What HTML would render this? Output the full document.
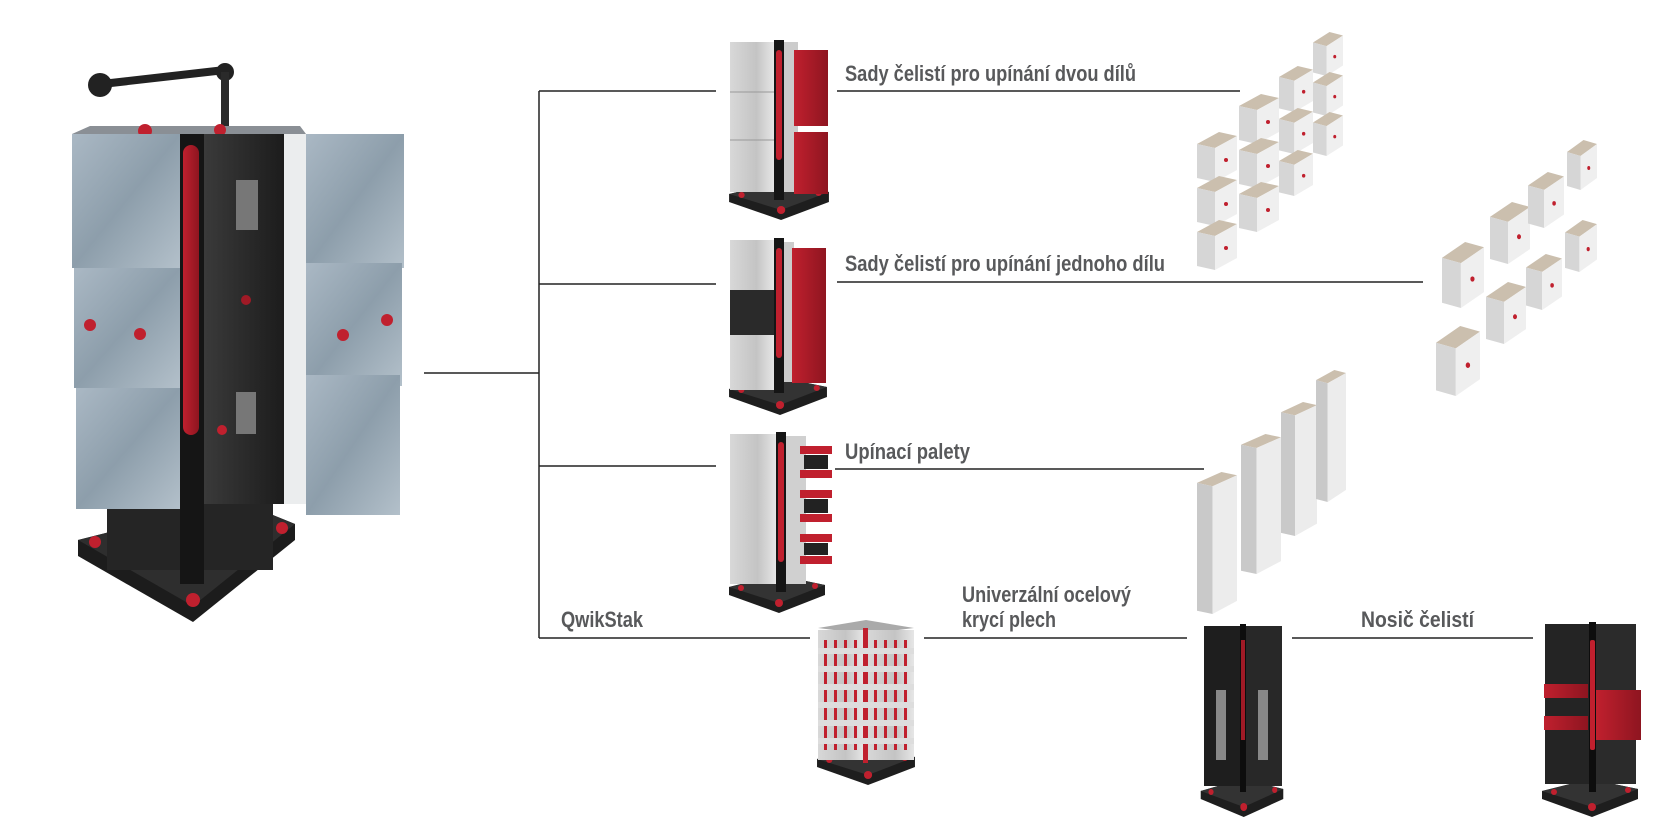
<!DOCTYPE html>
<html><head><meta charset="utf-8">
<style>
html,body{margin:0;padding:0;background:#fff;}
svg{display:block;}
text{font-family:"Liberation Sans Narrow","Liberation Sans",sans-serif;font-weight:bold;fill:#58595b;font-size:22px;}
</style></head>
<body>
<svg width="1679" height="818" viewBox="0 0 1679 818" xmlns="http://www.w3.org/2000/svg">
<defs>
<linearGradient id="steel" x1="0" y1="0" x2="1" y2="1">
<stop offset="0" stop-color="#aab8c4"/><stop offset="0.5" stop-color="#8d9eab"/><stop offset="1" stop-color="#b3c0ca"/>
</linearGradient>
<linearGradient id="silver" x1="0" y1="0" x2="1" y2="0">
<stop offset="0" stop-color="#d8d8d8"/><stop offset="0.6" stop-color="#c4c4c4"/><stop offset="1" stop-color="#e6e6e6"/>
</linearGradient>
<linearGradient id="red" x1="0" y1="0" x2="1" y2="0">
<stop offset="0" stop-color="#c0202e"/><stop offset="1" stop-color="#8e1520"/>
</linearGradient>
<linearGradient id="dark" x1="0" y1="0" x2="1" y2="0">
<stop offset="0" stop-color="#3a3a3a"/><stop offset="1" stop-color="#1c1c1c"/>
</linearGradient>
<symbol id="cube" viewBox="0 0 40 50" preserveAspectRatio="none">
<polygon points="0,12 22,0 40,4 18,16" fill="#cbbfae"/>
<polygon points="0,12 18,16 18,50 0,46" fill="#d6d6d6"/>
<polygon points="18,16 40,4 40,38 18,50" fill="#efefef"/>
<circle cx="29" cy="28" r="2" fill="#c0202e"/>
</symbol>
<symbol id="plate" viewBox="0 0 36 130" preserveAspectRatio="none">
<polygon points="0,10 22,0 36,3 14,13" fill="#cbbfae"/>
<polygon points="0,10 14,13 14,130 0,127" fill="#c9c9c9"/>
<polygon points="14,13 36,3 36,118 14,130" fill="#ececec"/>
</symbol>
<symbol id="base" viewBox="0 0 100 40" preserveAspectRatio="none">
<polygon points="2,14 50,2 98,12 98,22 52,40 2,22" fill="#1e1e1e"/>
<polygon points="2,14 50,2 98,12 52,30" fill="#333"/>
<circle cx="52" cy="30" r="4" fill="#c0202e"/>
<circle cx="14" cy="15" r="3" fill="#c0202e"/>
<circle cx="88" cy="13" r="3" fill="#c0202e"/>
</symbol>
</defs>

<!-- connector lines -->
<g stroke="#222" stroke-width="1.5" fill="none">
<line x1="424" y1="373" x2="539" y2="373"/>
<line x1="539" y1="91" x2="539" y2="638"/>
<line x1="539" y1="91" x2="716" y2="91"/>
<line x1="539" y1="284" x2="716" y2="284"/>
<line x1="539" y1="466" x2="716" y2="466"/>
<line x1="539" y1="638" x2="810" y2="638"/>
<line x1="837" y1="91" x2="1240" y2="91"/>
<line x1="837" y1="282" x2="1423" y2="282"/>
<line x1="835" y1="469" x2="1204" y2="469"/>
<line x1="924" y1="638" x2="1187" y2="638"/>
<line x1="1292" y1="638" x2="1533" y2="638"/>
</g>

<!-- labels -->
<text x="845" y="81" textLength="291" lengthAdjust="spacingAndGlyphs">Sady čelistí pro upínání dvou dílů</text>
<text x="845" y="271" textLength="320" lengthAdjust="spacingAndGlyphs">Sady čelistí pro upínání jednoho dílu</text>
<text x="845" y="459" textLength="125" lengthAdjust="spacingAndGlyphs">Upínací palety</text>
<text x="561" y="627" textLength="82" lengthAdjust="spacingAndGlyphs">QwikStak</text>
<text x="962" y="602" textLength="169" lengthAdjust="spacingAndGlyphs">Univerzální ocelový</text>
<text x="962" y="627" textLength="94" lengthAdjust="spacingAndGlyphs">krycí plech</text>
<text x="1361" y="627" textLength="113" lengthAdjust="spacingAndGlyphs">Nosič  čelistí</text>

<!-- MAIN VISE -->
<g>
<polygon points="78,540 236,500 295,524 295,540 193,622 78,556" fill="#1c1c1c"/>
<polygon points="78,540 236,500 295,524 193,606" fill="#2e2e2e"/>
<circle cx="193" cy="600" r="7" fill="#c0202e"/>
<circle cx="95" cy="542" r="6" fill="#c0202e"/>
<circle cx="282" cy="528" r="6" fill="#c0202e"/>
<rect x="107" y="500" width="166" height="70" fill="#252525"/>
<!-- handle -->
<line x1="102" y1="84" x2="225" y2="70" stroke="#222" stroke-width="8" stroke-linecap="round"/>
<circle cx="100" cy="85" r="12" fill="#222"/>
<circle cx="225" cy="72" r="9" fill="#222"/>
<rect x="221" y="72" width="8" height="60" fill="#2a2a2a"/>
<!-- top -->
<polygon points="72,134 90,126 300,126 306,134" fill="#8a8f95"/>
<circle cx="145" cy="131" r="7" fill="#c0202e"/><circle cx="220" cy="130" r="6" fill="#c0202e"/>
<!-- left jaws -->
<rect x="72" y="134" width="108" height="134" fill="url(#steel)"/>
<rect x="74" y="268" width="106" height="120" fill="url(#steel)"/>
<rect x="76" y="388" width="104" height="121" fill="url(#steel)"/>
<circle cx="90" cy="325" r="6" fill="#c0202e"/><circle cx="140" cy="334" r="6" fill="#c0202e"/>
<!-- column -->
<rect x="180" y="134" width="24" height="450" fill="#151515"/>
<rect x="183" y="145" width="16" height="290" rx="8" fill="url(#red)"/>
<!-- dark face -->
<rect x="204" y="134" width="80" height="370" fill="url(#dark)"/>
<rect x="236" y="180" width="22" height="50" fill="#777"/>
<rect x="236" y="392" width="20" height="42" fill="#777"/>
<circle cx="246" cy="300" r="5" fill="#a01a26"/><circle cx="222" cy="430" r="5" fill="#c0202e"/>
<rect x="284" y="134" width="22" height="370" fill="#e6e8ea" opacity="0.8"/>
<!-- right jaws -->
<rect x="306" y="134" width="98" height="134" fill="url(#steel)"/>
<rect x="306" y="263" width="96" height="123" fill="url(#steel)"/>
<rect x="306" y="375" width="94" height="140" fill="url(#steel)"/>
<circle cx="343" cy="335" r="6" fill="#c0202e"/><circle cx="387" cy="320" r="6" fill="#c0202e"/>
</g>

<!-- TOWER ROW1 -->
<g>
<use href="#base" x="727" y="180" width="104" height="40"/>
<rect x="730" y="42" width="44" height="150" fill="url(#silver)"/>
<line x1="730" y1="92" x2="774" y2="92" stroke="#999"/><line x1="730" y1="140" x2="774" y2="140" stroke="#999"/>
<rect x="774" y="40" width="10" height="160" fill="#151515"/>
<rect x="776" y="50" width="6" height="110" rx="3" fill="#c0202e"/>
<rect x="784" y="42" width="14" height="150" fill="#ccc"/>
<rect x="794" y="50" width="34" height="76" fill="url(#red)"/>
<rect x="794" y="132" width="34" height="62" fill="url(#red)"/>
</g>
<!-- TOWER ROW2 -->
<g>
<use href="#base" x="727" y="375" width="102" height="40"/>
<rect x="730" y="240" width="44" height="50" fill="url(#silver)"/>
<rect x="730" y="290" width="44" height="45" fill="#2a2a2a"/>
<rect x="730" y="335" width="44" height="55" fill="url(#silver)"/>
<rect x="774" y="238" width="10" height="155" fill="#151515"/>
<rect x="776" y="248" width="6" height="110" rx="3" fill="#c0202e"/>
<rect x="784" y="242" width="10" height="140" fill="#ccc"/>
<rect x="792" y="248" width="34" height="135" fill="url(#red)"/>
</g>
<!-- TOWER ROW3 -->
<g>
<use href="#base" x="727" y="573" width="100" height="40"/>
<rect x="730" y="434" width="46" height="150" fill="url(#silver)"/>
<rect x="776" y="432" width="10" height="160" fill="#151515"/>
<rect x="778" y="442" width="6" height="120" rx="3" fill="#c0202e"/>
<rect x="786" y="436" width="20" height="148" fill="#d0d0d0"/>
<g fill="#c0202e">
<rect x="800" y="446" width="32" height="8"/><rect x="800" y="470" width="32" height="8"/>
<rect x="800" y="490" width="32" height="8"/><rect x="800" y="514" width="32" height="8"/>
<rect x="800" y="534" width="32" height="8"/><rect x="800" y="556" width="32" height="8"/>
</g>
<g fill="#222">
<rect x="804" y="455" width="24" height="14"/><rect x="804" y="499" width="24" height="14"/>
<rect x="804" y="543" width="24" height="12"/>
</g>
</g>
<!-- QWIKSTAK -->
<g>
<use href="#base" x="815" y="745" width="102" height="40"/>
<polygon points="818,628 866,620 914,628 866,634" fill="#aaa"/>
<rect x="818" y="630" width="46" height="130" fill="url(#silver)"/>
<rect x="866" y="630" width="48" height="130" fill="url(#silver)"/>
<rect x="863" y="628" width="5" height="135" fill="#c0202e"/>
<g fill="#c0202e">
<rect x="824" y="640" width="3" height="110"/><rect x="834" y="640" width="3" height="110"/>
<rect x="844" y="640" width="3" height="110"/><rect x="854" y="640" width="3" height="110"/>
<rect x="874" y="640" width="3" height="110"/><rect x="884" y="640" width="3" height="110"/>
<rect x="894" y="640" width="3" height="110"/><rect x="904" y="640" width="3" height="110"/>
</g>
<g fill="#ddd">
<rect x="818" y="648" width="96" height="6"/><rect x="818" y="666" width="96" height="6"/>
<rect x="818" y="684" width="96" height="6"/><rect x="818" y="702" width="96" height="6"/>
<rect x="818" y="720" width="96" height="6"/><rect x="818" y="738" width="96" height="6"/>
</g>
</g>
<!-- BLACK TOWER -->
<g>
<use href="#base" x="1199" y="777" width="86" height="40"/>
<rect x="1204" y="626" width="36" height="160" fill="#1e1e1e"/>
<rect x="1240" y="624" width="6" height="168" fill="#0d0d0d"/>
<rect x="1241" y="640" width="4" height="100" fill="#a01a26"/>
<rect x="1246" y="626" width="36" height="160" fill="#282828"/>
<rect x="1216" y="690" width="10" height="70" fill="#888"/>
<rect x="1258" y="690" width="10" height="70" fill="#888"/>
</g>
<!-- NOSIC -->
<g>
<use href="#base" x="1540" y="777" width="100" height="40"/>
<rect x="1545" y="624" width="44" height="160" fill="#242424"/>
<rect x="1589" y="622" width="7" height="170" fill="#0d0d0d"/>
<rect x="1590" y="640" width="5" height="110" rx="2" fill="#c0202e"/>
<rect x="1596" y="624" width="40" height="160" fill="#2b2b2b"/>
<rect x="1544" y="684" width="44" height="14" fill="url(#red)"/>
<rect x="1544" y="716" width="44" height="14" fill="url(#red)"/>
<rect x="1596" y="690" width="45" height="50" fill="url(#red)"/>
</g>

<!-- ROW1 JAW STACKS -->
<use href="#cube" x="1197" y="132" width="40" height="50"/>
<use href="#cube" x="1197" y="176" width="40" height="50"/>
<use href="#cube" x="1197" y="220" width="40" height="50"/>
<use href="#cube" x="1239" y="94" width="40" height="50"/>
<use href="#cube" x="1239" y="138" width="40" height="50"/>
<use href="#cube" x="1239" y="182" width="40" height="50"/>
<use href="#cube" x="1279" y="66" width="34" height="46"/>
<use href="#cube" x="1279" y="108" width="34" height="46"/>
<use href="#cube" x="1279" y="150" width="34" height="46"/>
<use href="#cube" x="1313" y="32" width="30" height="44"/>
<use href="#cube" x="1313" y="72" width="30" height="44"/>
<use href="#cube" x="1313" y="112" width="30" height="44"/>

<!-- ROW2 CUBES -->
<use href="#cube" x="1442" y="242" width="42" height="66"/>
<use href="#cube" x="1490" y="202" width="40" height="62"/>
<use href="#cube" x="1528" y="172" width="36" height="56"/>
<use href="#cube" x="1567" y="140" width="30" height="50"/>
<use href="#cube" x="1486" y="282" width="40" height="62"/>
<use href="#cube" x="1526" y="254" width="36" height="56"/>
<use href="#cube" x="1565" y="220" width="32" height="52"/>
<use href="#cube" x="1436" y="326" width="44" height="70"/>

<!-- ROW3 PLATES -->
<use href="#plate" x="1197" y="472" width="40" height="142"/>
<use href="#plate" x="1241" y="434" width="40" height="140"/>
<use href="#plate" x="1281" y="402" width="36" height="134"/>
<use href="#plate" x="1316" y="370" width="30" height="132"/>
</svg>
</body></html>
